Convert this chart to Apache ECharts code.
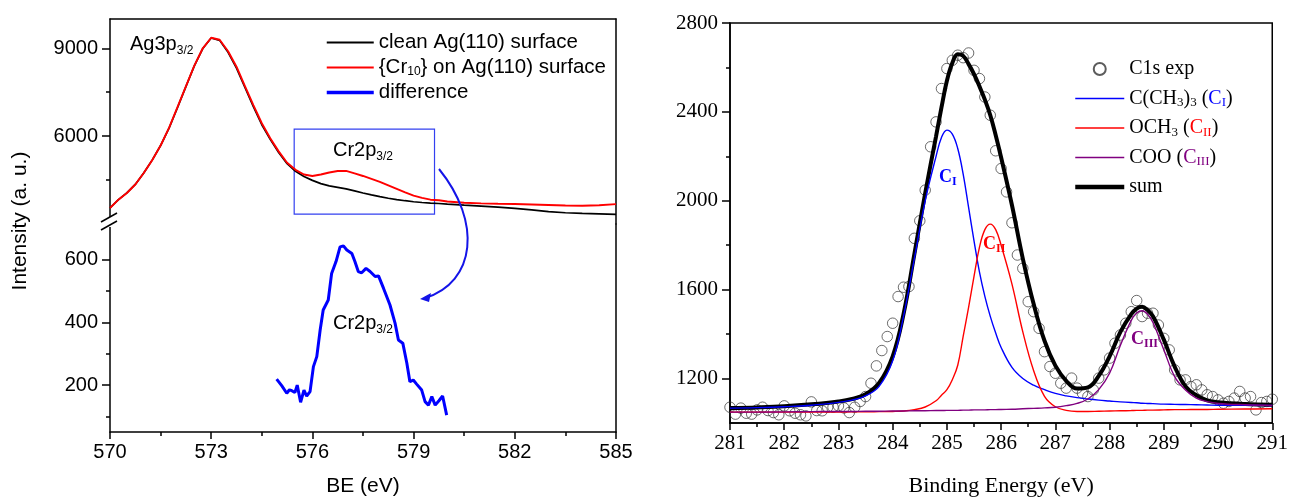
<!DOCTYPE html>
<html><head><meta charset="utf-8">
<script src="https://cdn.jsdelivr.net/npm/echarts@6/dist/echarts.min.js"></script>
<style>html,body{margin:0;padding:0;background:#fff}#c{width:1291px;height:502px}</style>
</head><body><div id="c"></div>
<script>
// ---------- LEFT PANEL DATA ----------
const leftE = [570,570.25,570.5,570.75,571,571.25,571.5,571.75,572,572.25,572.5,572.75,573,573.25,573.5,573.75,574,574.25,574.5,574.75,575,575.25,575.5,575.75,576,576.25,576.5,576.75,577,577.25,577.5,577.75,578,578.25,578.5,578.75,579,579.25,579.5,579.75,580,580.5,581,581.5,582,582.5,583,583.5,584,584.5,585];
const cleanVals = [3546,3830,4060,4350,4740,5180,5680,6270,6970,7690,8400,8990,9350,9270,8860,8320,7660,7010,6390,5890,5440,5060,4800,4620,4490,4380,4300,4250,4200,4130,4060,3995,3935,3880,3835,3795,3760,3735,3715,3700,3680,3645,3612,3578,3535,3480,3420,3385,3360,3345,3330];
const crVals = [3546,3830,4060,4350,4740,5180,5680,6280,6990,7700,8410,9000,9360,9290,8900,8370,7710,7060,6440,5930,5480,5090,4850,4690,4640,4690,4760,4810,4815,4730,4640,4540,4440,4320,4200,4080,3970,3890,3830,3810,3770,3725,3705,3692,3682,3665,3648,3632,3622,3640,3680];
const diffE = [574.94,575.09,575.24,575.32,575.39,575.48,575.55,575.65,575.75,575.83,575.93,576.03,576.13,576.23,576.32,576.47,576.57,576.70,576.82,576.92,577.02,577.17,577.26,577.36,577.46,577.59,577.71,577.86,577.96,578.11,578.30,578.45,578.55,578.68,578.80,578.89,578.99,579.09,579.24,579.34,579.44,579.54,579.64,579.75,579.86,579.98];
const diffVals = [219,198,174,185,182,176,200,145,184,165,179,259,291,376,440,472,557,595,642,645,632,621,595,563,559,573,563,547,549,509,456,398,344,334,270,211,216,203,184,147,136,163,136,150,165,104];
const boxE = [575.46, 579.62];
const boxI = [3340, 6240];
const upperTicks = [6000, 9000];
const upperMinor = [4500, 7500];
const lowerTicks = [200, 400, 600];
const lowerMinor = [100, 300, 500];

// ---------- RIGHT PANEL DATA ----------
const expE = [281.0,281.1,281.2,281.3,281.4,281.5,281.6,281.7,281.8,281.9,282.0,282.1,282.2,282.3,282.4,282.5,282.6,282.7,282.8,282.9,283.0,283.1,283.2,283.3,283.4,283.5,283.6,283.7,283.8,283.9,284.0,284.1,284.2,284.3,284.4,284.5,284.6,284.7,284.8,284.9,285.0,285.1,285.2,285.3,285.4,285.5,285.6,285.7,285.8,285.9,286.0,286.1,286.2,286.3,286.4,286.5,286.6,286.7,286.8,286.9,287.0,287.1,287.2,287.3,287.4,287.5,287.6,287.7,287.8,287.9,288.0,288.1,288.2,288.3,288.4,288.5,288.6,288.7,288.8,288.9,289.0,289.1,289.2,289.3,289.4,289.5,289.6,289.7,289.8,289.9,290.0,290.1,290.2,290.3,290.4,290.5,290.6,290.7,290.8,290.9,291.0];
const expVals = [1071,1040,1067,1044,1040,1059,1071,1056,1047,1037,1077,1055,1044,1037,1032,1095,1056,1055,1071,1071,1077,1068,1047,1071,1097,1119,1179,1257,1326,1389,1449,1569,1611,1614,1831,1910,2048,2243,2355,2505,2595,2632,2655,2644,2665,2587,2550,2467,2385,2225,2145,2040,1901,1756,1696,1546,1501,1426,1321,1254,1224,1179,1157,1202,1157,1134,1119,1149,1202,1239,1292,1359,1396,1449,1501,1551,1479,1494,1494,1441,1381,1329,1239,1194,1194,1164,1172,1149,1127,1119,1104,1089,1097,1112,1142,1112,1119,1059,1092,1097,1107];
const fitE = [281,281.5,282,282.5,283,283.25,283.5,283.75,284,284.2,284.4,284.6,284.8,284.9,285,285.1,285.2,285.3,285.4,285.5,285.6,285.7,285.8,285.9,286,286.2,286.4,286.6,286.8,287,287.2,287.4,287.6,287.8,288,288.2,288.4,288.5,288.6,288.7,288.8,289,289.2,289.4,289.6,289.8,290,290.5,291];
const sumVals = [1067,1070,1075,1084,1097,1108,1129,1180,1300,1490,1760,2035,2290,2420,2540,2620,2659,2652,2615,2570,2515,2455,2385,2295,2195,1980,1740,1535,1370,1258,1190,1155,1160,1212,1300,1410,1490,1515,1523,1508,1480,1375,1254,1165,1125,1102,1093,1085,1082];
const c1Vals = [1067,1069,1073,1080,1093,1103,1122,1165,1280,1480,1740,2000,2200,2285,2318,2300,2235,2120,1970,1820,1680,1570,1480,1405,1340,1250,1200,1170,1150,1133,1122,1114,1108,1103,1099,1095,1092,1091,1089,1088,1087,1085,1084,1083,1082,1081,1080,1080,1079];
const c2Vals = [1049,1049,1049,1049,1049,1050,1050,1051,1052,1054,1060,1072,1100,1125,1150,1195,1260,1390,1520,1660,1790,1870,1895,1870,1800,1625,1410,1235,1120,1073,1057,1052,1052,1053,1054,1055,1056,1057,1057,1058,1058,1059,1060,1060,1061,1061,1062,1063,1064];
const c3Vals = [1049,1049,1050,1051,1052,1052,1053,1053,1054,1054,1055,1055,1056,1056,1057,1057,1057,1058,1058,1059,1059,1059,1060,1060,1061,1062,1064,1066,1068,1071,1078,1088,1108,1150,1224,1350,1462,1495,1505,1490,1452,1330,1209,1149,1112,1096,1088,1082,1079];
const rightTicks = [1200, 1600, 2000, 2400, 2800];
const rightMinor = [1400, 1800, 2200, 2600];

// ---------- STYLE ----------
const SANS = "'Liberation Sans', Arial, Helvetica, sans-serif";
const SERIF = "'Liberation Serif', 'Times New Roman', Times, serif";
const AX = {color:'#000', width:1.5};
const BLUE = '#0000ff', RED = '#ff0000', PURPLE = '#800080';
const plain = v => String(v);

const pairs = (xs, ys) => xs.map((x, i) => [x, ys[i]]);

const chart = echarts.init(document.getElementById('c'), null, {renderer:'canvas'});

const leftNames = {
  'clean Ag(110) surface': 'clean Ag(110) surface',
  '{Cr10} on Ag(110) surface': '{Cr{s|10}} on Ag(110) surface',
  'difference': 'difference'
};
const rightNames = {
  'C1s exp': 'C1s exp',
  'C(CH3)3 (CI)': 'C(CH{s|3}){s|3} ({cb|C}{sb|I})',
  'OCH3 (CII)': 'OCH{s|3} ({cr|C}{sr|II})',
  'COO (CIII)': 'COO ({cp|C}{sp|III})',
  'sum': 'sum'
};
const noDot = {opacity:0};

function subStyle(ff, fs, color) {
  return {fontFamily: ff, fontSize: fs, color: color || '#000', lineHeight: 5, verticalAlign: 'bottom'};
}

const option = {
  animation: false,
  backgroundColor: '#fff',
  grid: [
    {left:110, right:675, top:19, height:205},
    {left:110, right:675, top:224, height:208},
    {left:730, right:18, top:23, height:400, show:true, borderColor:'#000', borderWidth:1.5, backgroundColor:'transparent'}
  ],
  xAxis: [
    {gridIndex:0, type:'value', min:570, max:585, position:'top',
     axisLine:{show:true, onZero:false, lineStyle:AX}, axisTick:{show:false}, axisLabel:{show:false}, splitLine:{show:false}},
    {gridIndex:1, type:'value', min:570, max:585, interval:3, position:'bottom',
     axisLine:{show:true, onZero:false, lineStyle:AX},
     axisTick:{show:true, length:7, lineStyle:AX},
     minorTick:{show:true, splitNumber:2, length:4, lineStyle:AX},
     axisLabel:{fontFamily:SANS, fontSize:20, color:'#000', margin:10, formatter:plain},
     splitLine:{show:false}, minorSplitLine:{show:false},
     name:'BE (eV)', nameLocation:'middle', nameGap:44,
     nameTextStyle:{fontFamily:SANS, fontSize:21, color:'#000'}},
    {gridIndex:2, type:'value', min:281, max:291, interval:1, position:'bottom',
     axisLine:{show:true, onZero:false, lineStyle:AX},
     axisTick:{show:true, length:7, lineStyle:AX},
     minorTick:{show:true, splitNumber:2, length:4, lineStyle:AX},
     axisLabel:{fontFamily:SERIF, fontSize:21, color:'#000', margin:10, formatter:plain},
     splitLine:{show:false}, minorSplitLine:{show:false},
     name:'Binding Energy (eV)', nameLocation:'middle', nameGap:52,
     nameTextStyle:{fontFamily:SERIF, fontSize:22, color:'#000'}}
  ],
  yAxis: [
    {gridIndex:0, type:'value', min:3000, max:10000, position:'left',
     axisLine:{show:true, onZero:false, lineStyle:AX},
     axisTick:{show:true, length:8, lineStyle:AX, customValues:upperTicks},
     axisLabel:{fontFamily:SANS, fontSize:20, color:'#000', margin:12, customValues:upperTicks, formatter:plain},
     splitLine:{show:false}},
    {gridIndex:0, type:'value', min:3000, max:10000, position:'left',
     axisLine:{show:false}, axisTick:{show:true, length:4, lineStyle:AX, customValues:upperMinor},
     axisLabel:{show:false}, splitLine:{show:false}},
    {gridIndex:0, type:'value', min:0, max:1, position:'right',
     axisLine:{show:true, onZero:false, lineStyle:AX}, axisTick:{show:false}, axisLabel:{show:false}, splitLine:{show:false}},
    {gridIndex:1, type:'value', min:50, max:715, position:'left',
     axisLine:{show:true, onZero:false, lineStyle:AX},
     axisTick:{show:true, length:8, lineStyle:AX, customValues:lowerTicks},
     axisLabel:{fontFamily:SANS, fontSize:20, color:'#000', margin:12, customValues:lowerTicks, formatter:plain},
     splitLine:{show:false}},
    {gridIndex:1, type:'value', min:50, max:715, position:'left',
     axisLine:{show:false}, axisTick:{show:true, length:4, lineStyle:AX, customValues:lowerMinor},
     axisLabel:{show:false}, splitLine:{show:false}},
    {gridIndex:1, type:'value', min:0, max:1, position:'right',
     axisLine:{show:true, onZero:false, lineStyle:AX}, axisTick:{show:false}, axisLabel:{show:false}, splitLine:{show:false}},
    {gridIndex:2, type:'value', min:1000, max:2800, position:'left',
     axisLine:{show:true, onZero:false, lineStyle:AX},
     axisTick:{show:true, length:8, lineStyle:AX, customValues:rightTicks},
     axisLabel:{fontFamily:SERIF, fontSize:21, color:'#000', margin:12, customValues:rightTicks, formatter:plain},
     splitLine:{show:false}},
    {gridIndex:2, type:'value', min:1000, max:2800, position:'left',
     axisLine:{show:false}, axisTick:{show:true, length:4, lineStyle:AX, customValues:rightMinor},
     axisLabel:{show:false}, splitLine:{show:false}}
  ],
  legend: [
    {data:[
       {name:'clean Ag(110) surface', itemStyle:noDot, lineStyle:{width:2}},
       {name:'{Cr10} on Ag(110) surface', itemStyle:noDot, lineStyle:{width:2}},
       {name:'difference', itemStyle:noDot, lineStyle:{width:3.5}}],
     orient:'vertical', left:325, top:32, padding:0, itemWidth:47, itemHeight:14, itemGap:4,
     formatter: n => leftNames[n] || n,
     textStyle:{fontFamily:SANS, fontSize:20.5, color:'#000', lineHeight:20,
       rich:{s: subStyle(SANS, 12)}}},
    {data:[
       {name:'C1s exp'},
       {name:'C(CH3)3 (CI)', itemStyle:noDot, lineStyle:{width:1.5}},
       {name:'OCH3 (CII)', itemStyle:noDot, lineStyle:{width:1.5}},
       {name:'COO (CIII)', itemStyle:noDot, lineStyle:{width:1.5}},
       {name:'sum', itemStyle:noDot, lineStyle:{width:4.5}}],
     orient:'vertical', left:1073, top:58, padding:0, itemWidth:49, itemHeight:12, itemGap:7.5,
     formatter: n => rightNames[n] || n,
     textStyle:{fontFamily:SERIF, fontSize:20, color:'#000', lineHeight:22,
       rich:{
         s: subStyle(SERIF, 13),
         cb:{fontFamily:SERIF, fontSize:20, color:BLUE, lineHeight:22},
         sb: subStyle(SERIF, 13, BLUE),
         cr:{fontFamily:SERIF, fontSize:20, color:RED, lineHeight:22},
         sr: subStyle(SERIF, 13, RED),
         cp:{fontFamily:SERIF, fontSize:20, color:PURPLE, lineHeight:22},
         sp: subStyle(SERIF, 13, PURPLE)
       }}}
  ],
  series: [
    {name:'clean Ag(110) surface', type:'line', xAxisIndex:0, yAxisIndex:0,
     data: pairs(leftE, cleanVals), symbol:'none', lineStyle:{color:'#000', width:1.7}, itemStyle:{color:'#000'},
     markArea:{silent:true, itemStyle:{color:'rgba(0,0,0,0)', borderColor:'#3340f0', borderWidth:1.2},
       data:[[{coord:[boxE[0], boxI[1]]},{coord:[boxE[1], boxI[0]]}]]}},
    {name:'{Cr10} on Ag(110) surface', type:'line', xAxisIndex:0, yAxisIndex:0,
     data: pairs(leftE, crVals), symbol:'none', lineStyle:{color:RED, width:1.9}, itemStyle:{color:RED}},
    {name:'difference', type:'line', xAxisIndex:1, yAxisIndex:3,
     data: pairs(diffE, diffVals), symbol:'none', lineStyle:{color:BLUE, width:3}, itemStyle:{color:BLUE}},
    {name:'C1s exp', type:'scatter', xAxisIndex:2, yAxisIndex:6,
     data: pairs(expE, expVals), symbol:'circle', symbolSize:10.5,
     itemStyle:{color:'rgba(255,255,255,0)', borderColor:'#333', borderWidth:0.9}},
    {name:'sum', type:'line', xAxisIndex:2, yAxisIndex:6, data: pairs(fitE, sumVals),
     symbol:'none', smooth:0.4, lineStyle:{color:'#000', width:4}, itemStyle:{color:'#000'}},
    {name:'C(CH3)3 (CI)', type:'line', xAxisIndex:2, yAxisIndex:6, data: pairs(fitE, c1Vals),
     symbol:'none', smooth:0.4, lineStyle:{color:BLUE, width:1.4}, itemStyle:{color:BLUE}},
    {name:'OCH3 (CII)', type:'line', xAxisIndex:2, yAxisIndex:6, data: pairs(fitE, c2Vals),
     symbol:'none', smooth:0.4, lineStyle:{color:RED, width:1.4}, itemStyle:{color:RED}},
    {name:'COO (CIII)', type:'line', xAxisIndex:2, yAxisIndex:6, data: pairs(fitE, c3Vals),
     symbol:'none', smooth:0.4, lineStyle:{color:PURPLE, width:1.4}, itemStyle:{color:PURPLE}}
  ],
  graphic: [
    {type:'rect', shape:{x:104, y:217, width:12, height:10}, style:{fill:'#fff'}, z:100},
    {type:'line', shape:{x1:101, y1:222, x2:117, y2:213}, style:{stroke:'#000', lineWidth:1.5}, z:101},
    {type:'line', shape:{x1:101, y1:230, x2:117, y2:221}, style:{stroke:'#000', lineWidth:1.5}, z:101},
    {type:'bezierCurve', shape:{x1:439, y1:169, cpx1:482, cpy1:222, cpx2:476, cpy2:282, x2:425, y2:298},
     style:{stroke:'#1414e8', lineWidth:2, fill:null}, z:50},
    {type:'polygon', shape:{points:[[420,299],[431,293],[429,302]]}, style:{fill:'#1414e8'}, z:50},
    {type:'text', x:20, y:221, rotation:Math.PI/2, z:50,
     style:{text:'Intensity (a. u.)', fontFamily:SANS, fontSize:21, fill:'#000', align:'center', verticalAlign:'middle'}},
    {type:'text', x:130, y:31, z:50,
     style:{text:'{m|Ag3p}{s|3/2}', rich:{m:{fontFamily:SANS, fontSize:20, fill:'#000', lineHeight:26},
       s:{fontFamily:SANS, fontSize:12, fill:'#000', lineHeight:8, verticalAlign:'bottom'}}}},
    {type:'text', x:333, y:137, z:50,
     style:{text:'{m|Cr2p}{s|3/2}', rich:{m:{fontFamily:SANS, fontSize:20, fill:'#000', lineHeight:26},
       s:{fontFamily:SANS, fontSize:12, fill:'#000', lineHeight:8, verticalAlign:'bottom'}}}},
    {type:'text', x:333, y:310, z:50,
     style:{text:'{m|Cr2p}{s|3/2}', rich:{m:{fontFamily:SANS, fontSize:20, fill:'#000', lineHeight:26},
       s:{fontFamily:SANS, fontSize:12, fill:'#000', lineHeight:8, verticalAlign:'bottom'}}}},
    {type:'text', x:939, y:166, z:50,
     style:{text:'{m|C}{s|I}', rich:{m:{fontFamily:SERIF, fontSize:18, fontWeight:'bold', fill:BLUE, lineHeight:22},
       s:{fontFamily:SERIF, fontSize:12, fontWeight:'bold', fill:BLUE, lineHeight:8, verticalAlign:'bottom'}}}},
    {type:'text', x:983, y:233, z:50,
     style:{text:'{m|C}{s|II}', rich:{m:{fontFamily:SERIF, fontSize:18, fontWeight:'bold', fill:RED, lineHeight:22},
       s:{fontFamily:SERIF, fontSize:12, fontWeight:'bold', fill:RED, lineHeight:8, verticalAlign:'bottom'}}}},
    {type:'text', x:1131, y:328, z:50,
     style:{text:'{m|C}{s|III}', rich:{m:{fontFamily:SERIF, fontSize:18, fontWeight:'bold', fill:PURPLE, lineHeight:22},
       s:{fontFamily:SERIF, fontSize:12, fontWeight:'bold', fill:PURPLE, lineHeight:8, verticalAlign:'bottom'}}}}
  ]
};
chart.setOption(option);
</script></body></html>
